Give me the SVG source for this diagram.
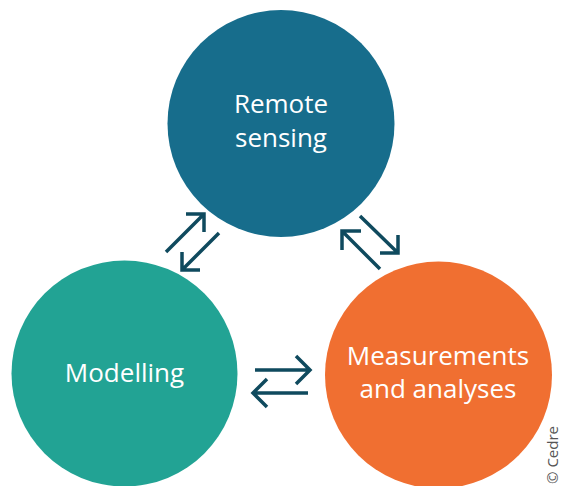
<svg xmlns="http://www.w3.org/2000/svg" width="563" height="486" viewBox="0 0 563 486">
<style>
.lbl{font-family:"Open Sans",Lato,"Liberation Sans",sans-serif;font-size:26px;fill:#fff;text-anchor:middle}
.arr{fill:none;stroke:#0f4a5e;stroke-width:3.5;stroke-linecap:butt;stroke-linejoin:miter}
.cr{font-family:"Open Sans",Lato,"Liberation Sans",sans-serif;font-size:15px;fill:#555}
</style>
<rect width="563" height="486" fill="#fff"/>
<g id="remote-sensing">
<circle cx="281" cy="123.5" r="113.5" fill="#176d8c"/>
<text class="lbl" x="281" y="113">Remote</text>
<text class="lbl" x="281" y="147">sensing</text>
</g>
<g id="modelling">
<circle cx="124.5" cy="373.5" r="113" fill="#22a394"/>
<text class="lbl" x="124.5" y="382">Modelling</text>
</g>
<g id="measurements">
<circle cx="438.5" cy="375" r="113.5" fill="#f06f31"/>
<text class="lbl" x="438" y="365">Measurements</text>
<text class="lbl" x="438" y="398">and analyses</text>
</g>
<g id="connectors">
<path class="arr" d="M166 252L204 214M186 214H204V232"/>
<path class="arr" d="M219 233L182 270M182 252V270H200"/>
<path class="arr" d="M360 216L398 253M398 235V253H380"/>
<path class="arr" d="M380 269L342 231M361 231H342V250"/>
<path class="arr" d="M255 370H310M296 356L310 370L296 384"/>
<path class="arr" d="M308 393H253M267 379L253 393L267 407"/>
</g>
<text class="cr" transform="translate(558 484) rotate(-90)">© Cedre</text>
</svg>
